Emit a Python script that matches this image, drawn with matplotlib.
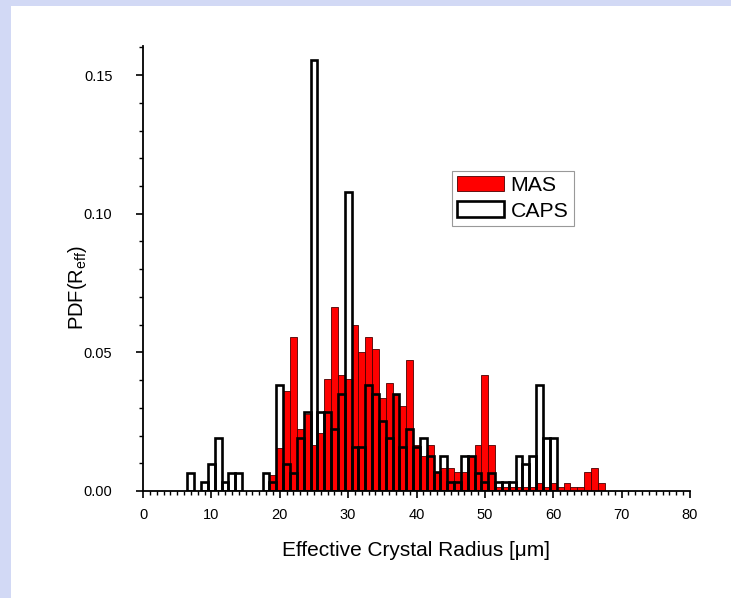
import numpy as np
import matplotlib
matplotlib.use("Agg")
import matplotlib.pyplot as plt
from matplotlib.patches import Rectangle
from matplotlib.ticker import MultipleLocator

# ---- data ----
radius = list(range(7, 68))  # bin centres, 1 µm bins

caps = [0.0064, 0, 0.0032, 0.0096, 0.0192, 0.0032, 0.0064, 0.0064,   # 7-14
        0, 0, 0, 0.0064, 0.0032, 0.0382, 0.0096, 0.0064,              # 15-22
        0.0192, 0.0286, 0.1555, 0.0286, 0.0286, 0.0222, 0.0350, 0.1080,  # 23-30
        0.0160, 0.0160, 0.0382, 0.0350, 0.0254, 0.0192, 0.0350, 0.0160,  # 31-38
        0.0222, 0.0160, 0.0192, 0.0126, 0.0070, 0.0126, 0.0032, 0.0032,  # 39-46
        0.0126, 0.0126, 0.0064, 0.0032, 0.0064, 0.0032, 0.0032, 0.0032,  # 47-54
        0.0126, 0.0096, 0.0126, 0.0382, 0.0192, 0.0192, 0, 0,            # 55-62
        0, 0, 0, 0, 0]                                                   # 63-67

mas = [0, 0, 0, 0, 0, 0, 0, 0,                                          # 7-14
       0, 0, 0, 0, 0.0056, 0.0154, 0.0360, 0.0556,                      # 15-22
       0.0222, 0.0278, 0.0167, 0.0208, 0.0403, 0.0665, 0.0417, 0.0403,  # 23-30
       0.0599, 0.0500, 0.0556, 0.0513, 0.0334, 0.0390, 0.0348, 0.0305,  # 31-38
       0.0472, 0.0166, 0.0125, 0.0166, 0.0070, 0.0083, 0.0083, 0.0068,  # 39-46
       0.0068, 0.0125, 0.0167, 0.0417, 0.0167, 0.0014, 0.0014, 0.0014,  # 47-54
       0.0014, 0.0014, 0.0014, 0.0028, 0.0014, 0.0028, 0.0014, 0.0028,  # 55-62
       0.0014, 0.0014, 0.0070, 0.0084, 0.0028]                          # 63-67

x_ticks = [0, 10, 20, 30, 40, 50, 60, 70, 80]
y_ticks = [0.00, 0.05, 0.10, 0.15]
y_ticklabels = ["0.00", "0.05", "0.10", "0.15"]

plt.rcParams['font.family'] = ['Liberation Sans', 'DejaVu Sans']
plt.rcParams['mathtext.fontset'] = 'custom'
plt.rcParams['mathtext.rm'] = 'Liberation Sans'
plt.rcParams['mathtext.it'] = 'Liberation Sans:italic'

fig = plt.figure(figsize=(7.31, 5.98), dpi=100)
fig.patch.set_facecolor('white')
# lavender frame strips (top and left)
bg = '#D2D9F5'
fig.patches.append(Rectangle((0, 1 - 6/598), 1, 6/598, transform=fig.transFigure,
                             facecolor=bg, edgecolor='none', zorder=0))
fig.patches.append(Rectangle((0, 0), 11/731, 1, transform=fig.transFigure,
                             facecolor=bg, edgecolor='none', zorder=0))

ax = fig.add_axes([143/731, 107/598, 547/731, 445/598])

r = np.array(radius)
m = np.array(mas)
c = np.array(caps)
mk = m > 0
ck = c > 0
ax.bar(r[mk], m[mk], width=1.0, color='#FF0000', edgecolor='#4a0000', linewidth=0.6,
       label='MAS', zorder=2)
ax.bar(r[ck], c[ck], width=1.0, facecolor='none', edgecolor='black', linewidth=1.9,
       label='CAPS', zorder=3)

ax.set_xlim(0, 80)
ax.set_ylim(0, 0.1605)
ax.set_xticks(x_ticks)
ax.set_yticks(y_ticks)
ax.set_yticklabels(y_ticklabels)
ax.xaxis.set_minor_locator(MultipleLocator(1))
ax.yaxis.set_minor_locator(MultipleLocator(0.01))
ax.tick_params(axis='both', which='major', direction='out', length=5, width=1.2,
               labelsize=10.5, colors='black')
ax.tick_params(axis='y', which='major', pad=17)
ax.tick_params(axis='x', which='major', pad=7)
ax.tick_params(axis='both', which='minor', direction='out', length=3, width=1.0)
for s in ['top', 'right']:
    ax.spines[s].set_visible(False)
for s in ['left', 'bottom']:
    ax.spines[s].set_linewidth(1.3)

ax.set_xlabel('Effective Crystal Radius [\u03bcm]', fontsize=15)
ax.xaxis.set_label_coords(0.5, -0.112)
ax.set_ylabel('PDF(R$_{\\mathrm{eff}}$)', fontsize=14.5)
ax.yaxis.set_label_coords(-0.099, 0.458)

leg = ax.legend(loc='upper left', bbox_to_anchor=(0.565, 0.72), fontsize=15.3,
                frameon=True, fancybox=False, edgecolor='#999999', framealpha=1,
                handlelength=2.2, handleheight=0.75, handletextpad=0.3,
                borderpad=0.25, labelspacing=0.3, borderaxespad=0)
leg.get_frame().set_linewidth(0.8)

fig.savefig('out.png', dpi=100)
